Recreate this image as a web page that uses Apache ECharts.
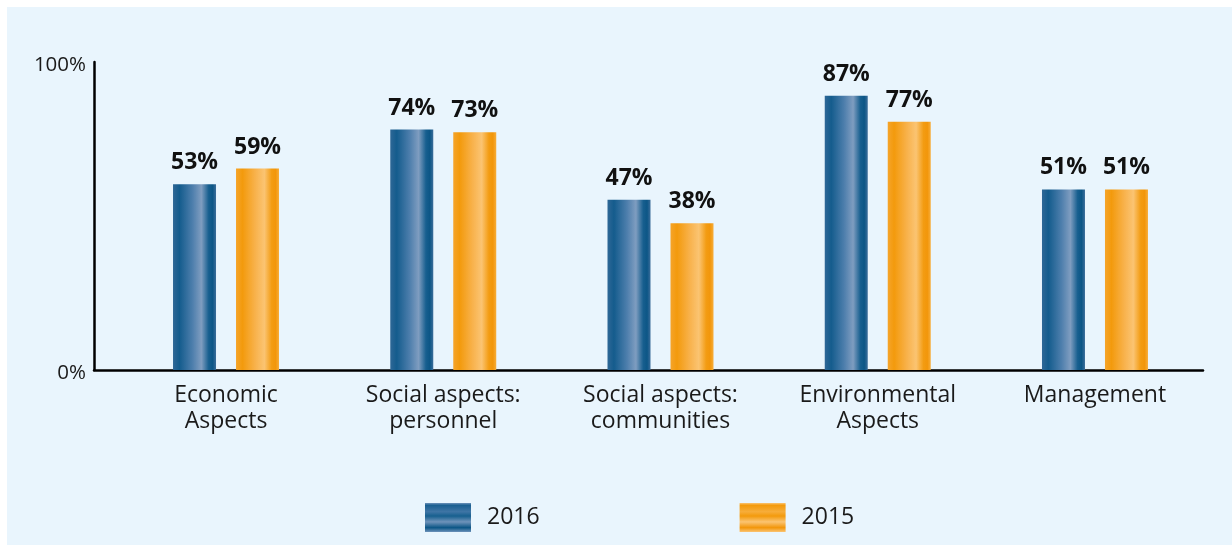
<!DOCTYPE html>
<html>
<head>
<meta charset="utf-8">
<script src="https://cdn.jsdelivr.net/npm/echarts@6/dist/echarts.min.js"></script>
<style>
  html, body { margin: 0; padding: 0; background: #ffffff; }
  #wrap { position: relative; width: 1232px; height: 545px; background: #ffffff; }
  #chart { position: absolute; left: 7px; top: 7px; width: 1225px; height: 538px; }
</style>
</head>
<body>
<div id="wrap"><div id="chart"></div></div>
<script>
// ---- data ----
const categories = ['Economic\nAspects', 'Social aspects:\npersonnel', 'Social aspects:\ncommunities', 'Environmental\nAspects', 'Management'];
const seriesNames = ['2016', '2015'];
const values2016 = [53, 74, 47, 87, 51];
const values2015 = [59, 73, 38, 77, 51];
const yTickLabels = ['0%', '100%'];
// the original chart's bars rise from a baseline offset below its labelled 0%
const AXIS_OFFSET = 18.46;

const FONT = 'Open Sans';
const blueBar = new echarts.graphic.LinearGradient(0, 0, 1, 0, [
  { offset: 0, color: '#2e6796' }, { offset: 0.15, color: '#145c8d' },
  { offset: 0.45, color: '#4d7eac' }, { offset: 0.66, color: '#7f9dc0' },
  { offset: 0.83, color: '#175f8f' }, { offset: 0.92, color: '#0c5686' },
  { offset: 1, color: '#3b6d9a' }
]);
const orangeBar = new echarts.graphic.LinearGradient(0, 0, 1, 0, [
  { offset: 0, color: '#f5a42a' }, { offset: 0.15, color: '#f39a0c' },
  { offset: 0.45, color: '#f8b24c' }, { offset: 0.66, color: '#fbc472' },
  { offset: 0.83, color: '#f39c12' }, { offset: 0.92, color: '#f2960a' },
  { offset: 1, color: '#f7ad3a' }
]);
const blueLegend = new echarts.graphic.LinearGradient(0, 0, 0, 1, [
  { offset: 0, color: '#6d92ba' }, { offset: 0.08, color: '#1a5f90' },
  { offset: 0.3, color: '#3f75a5' }, { offset: 0.45, color: '#17608f' },
  { offset: 0.65, color: '#6f93ba' }, { offset: 0.85, color: '#0c5686' },
  { offset: 1, color: '#6d92ba' }
]);
const orangeLegend = new echarts.graphic.LinearGradient(0, 0, 0, 1, [
  { offset: 0, color: '#fbc472' }, { offset: 0.08, color: '#f39a0c' },
  { offset: 0.3, color: '#f7ad3a' }, { offset: 0.45, color: '#f39a0c' },
  { offset: 0.65, color: '#fbc472' }, { offset: 0.85, color: '#f2960a' },
  { offset: 1, color: '#fbc472' }
]);

const base = categories.map(() => AXIS_OFFSET);

const chart = echarts.init(document.getElementById('chart'), null, { renderer: 'canvas' });
chart.setOption({
  backgroundColor: '#e9f5fd',
  animation: false,
  textStyle: { fontFamily: FONT },
  legend: {
    left: 413, top: 491,
    itemWidth: 46, itemHeight: 29, itemGap: 200,
    icon: 'rect',
    textStyle: { fontFamily: FONT, fontSize: 23, color: '#1a1a1a', padding: [0, 0, 0, 11] },
    data: [
      { name: seriesNames[0], itemStyle: { color: blueLegend } },
      { name: seriesNames[1], itemStyle: { color: orangeLegend } }
    ]
  },
  grid: [
    { left: 110.4, right: 28.4, top: 55, bottom: 175, containLabel: false },
    { left: 87, right: 29, top: 55, bottom: 175, containLabel: false }
  ],
  xAxis: [
    {
      type: 'category', gridIndex: 0, data: categories,
      axisLine: { show: false }, axisTick: { show: false },
      axisLabel: { interval: 0, fontFamily: FONT, fontSize: 23, color: '#1a1a1a', lineHeight: 26, margin: 12 }
    },
    {
      type: 'category', gridIndex: 1, data: [''],
      axisLine: { show: true, lineStyle: { color: '#000', width: 2.5 } },
      axisTick: { show: false }, axisLabel: { show: false }
    }
  ],
  yAxis: [
    {
      type: 'value', gridIndex: 0, min: 0, max: AXIS_OFFSET + 100, offset: 23.4,
      splitLine: { show: false },
      axisLine: { show: true, lineStyle: { color: '#000', width: 2.5 } },
      axisTick: { show: false },
      axisLabel: {
        customValues: [0, AXIS_OFFSET + 100],
        formatter: (v) => (v === 0 ? yTickLabels[0] : yTickLabels[1]),
        fontFamily: FONT, fontSize: 20.5, color: '#1a1a1a', margin: 8,
        verticalAlign: 'top', lineHeight: 6
      }
    },
    { type: 'value', gridIndex: 1, show: false, min: 0, max: 1 }
  ],
  series: [
    { name: 'base2016', type: 'bar', stack: 's2016', data: base, barWidth: 43, barGap: '46.5%',
      itemStyle: { color: blueBar }, silent: true },
    { name: seriesNames[0], type: 'bar', stack: 's2016', data: values2016, barWidth: 43,
      itemStyle: { color: blueBar },
      label: { show: true, position: 'top', distance: 10, formatter: '{c}%',
        fontFamily: FONT, fontWeight: 'bold', fontSize: 23, color: '#111' } },
    { name: 'base2015', type: 'bar', stack: 's2015', data: base, barWidth: 43, barGap: '46.5%',
      itemStyle: { color: orangeBar }, silent: true },
    { name: seriesNames[1], type: 'bar', stack: 's2015', data: values2015, barWidth: 43,
      itemStyle: { color: orangeBar },
      label: { show: true, position: 'top', distance: 10, formatter: '{c}%',
        fontFamily: FONT, fontWeight: 'bold', fontSize: 23, color: '#111' } }
  ]
});
</script>
</body>
</html>
